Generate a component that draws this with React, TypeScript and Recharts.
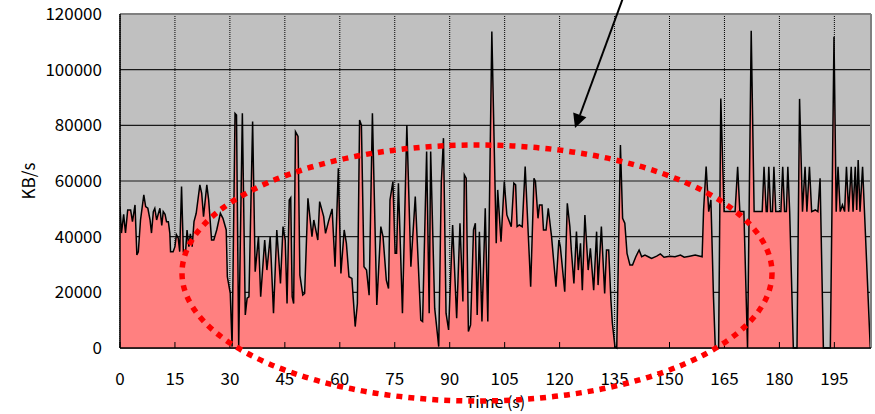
import { Area, AreaChart, CartesianGrid, Label, ReferenceLine, XAxis, YAxis } from "recharts";

// time stamps (s) of each sample
const TIME_S = [
  0, 0.4, 1.0, 1.5, 2.1, 2.9, 3.4, 4.1, 4.6, 5.0, 5.6, 6.5, 7.0, 7.6, 8.2, 8.6, 9.1, 9.5, 10.0, 10.5,
  10.9, 11.4, 11.8, 12.3, 12.7, 13.2, 13.6, 13.8, 14.5, 15.0, 15.4, 15.9, 16.3, 16.8, 17.3, 17.9, 18.3, 18.8, 19.2, 19.7,
  20.2, 20.8, 21.8, 22.3, 22.8, 23.7, 24.2, 25.0, 25.6, 26.4, 27.4, 28.1, 29.0, 29.3, 30.1, 30.6, 31.4, 31.8, 32.4, 33.4,
  34.2, 34.7, 35.2, 36.2, 36.9, 37.8, 38.4, 39.5, 40.1, 41.0, 41.9, 42.8, 43.8, 44.5, 45.1, 45.6, 46.2, 46.6, 47.0, 47.4,
  47.9, 48.6, 49.1, 49.9, 50.4, 51.3, 52.4, 52.9, 54.0, 54.5, 55.6, 56.1, 56.9, 57.9, 58.7, 59.6, 60.3, 61.2, 61.8, 62.5,
  63.3, 64.2, 64.8, 65.4, 65.9, 66.6, 67.3, 68.0, 68.9, 70.1, 71.2, 71.8, 72.7, 73.3, 73.7, 74.5, 75.1, 75.5, 76.0, 77.1,
  78.3, 79.4, 80.6, 82.1, 82.6, 83.7, 84.4, 84.8, 85.9, 87.0, 87.7, 88.3, 89.0, 89.7, 90.8, 91.9, 92.8, 93.6, 94.0, 94.5,
  95.1, 95.7, 96.5, 97.0, 97.5, 98.1, 98.8, 99.7, 100.4, 101.5, 102.7, 103.1, 104.0, 104.9, 105.6, 106.8, 107.5, 108.0, 108.4, 109.0,
  109.8, 110.6, 112.1, 113.0, 113.4, 114.1, 114.5, 115.2, 115.6, 116.3, 116.9, 117.8, 119.0, 119.8, 120.2, 121.4, 122.1, 122.8, 123.2, 123.9,
  124.6, 125.1, 125.7, 126.2, 126.9, 127.8, 128.4, 129.3, 130.1, 130.5, 131.4, 132.3, 132.8, 133.4, 134.0, 134.4, 135.1, 135.6, 136.6, 137.2,
  137.8, 138.4, 139.2, 139.9, 140.8, 141.7, 142.4, 143.3, 144.2, 145.1, 146.5, 147.5, 148.5, 150.0, 151.5, 153.0, 154.0, 155.5, 157.0, 158.9,
  159.3, 160.0, 160.7, 161.3, 162.0, 162.5, 163.4, 164.0, 164.9, 166.5, 167.9, 168.6, 169.2, 170.3, 171.3, 172.3, 173.1, 175.3, 175.8, 176.4,
  176.7, 177.1, 177.6, 178.1, 178.5, 179.0, 180.4, 180.9, 181.4, 181.9, 182.3, 182.8, 183.8, 184.8, 185.5, 186.3, 187.0, 187.5, 188.2, 188.8,
  189.8, 190.5, 191.1, 192.0, 193.9, 194.9, 195.5, 196.0, 196.6, 197.2, 197.8, 198.3, 198.9, 199.6, 200.1, 200.7, 201.1, 201.5, 202.0, 202.7,
  203.2, 204.8,
];

// throughput (KB/s) at each time stamp above
const RATE_KBPS = [
  50800, 41300, 48000, 41300, 49600, 49600, 45400, 51400, 33400, 34600, 46000, 55000, 50800, 50200, 46000, 41300, 49000, 50200, 46000, 48400,
  50200, 44000, 49000, 48000, 45400, 45400, 41300, 34600, 34600, 36400, 40700, 39500, 34600, 58000, 34600, 34600, 42400, 36400, 41000, 36400,
  45400, 48400, 58600, 55600, 47200, 58600, 53200, 38800, 38800, 42400, 48400, 46600, 42400, 25600, 19600, 500, 84300, 83700, 600, 84300,
  11900, 17900, 18400, 81400, 27400, 40000, 18400, 38800, 28000, 40000, 12500, 42400, 23200, 43600, 38800, 16000, 53200, 54000, 18400, 16000,
  77700, 76000, 26200, 19000, 19600, 53800, 40000, 46000, 38800, 52600, 47200, 41200, 45400, 50000, 29200, 64600, 26800, 42400, 37600, 25600,
  25000, 7700, 16000, 81900, 80100, 29200, 28000, 19000, 84300, 15500, 43600, 40000, 24400, 21400, 53200, 59800, 34000, 34000, 59200, 12500,
  80100, 29200, 54400, 10000, 9500, 70600, 12500, 70600, 14300, 500, 59200, 75400, 12500, 6500, 44200, 10700, 44800, 16700, 62200, 61000,
  5900, 8300, 42400, 44800, 11900, 41800, 9500, 50200, 9500, 113700, 37600, 56800, 38200, 59800, 47800, 43600, 59200, 58600, 43600, 44200,
  43600, 65200, 22000, 61000, 59800, 46600, 51400, 51400, 42400, 42400, 50200, 40000, 22000, 38800, 36400, 20200, 52000, 43600, 35200, 23200,
  41800, 28000, 37600, 20800, 47800, 28000, 35800, 20800, 41800, 22600, 43600, 19600, 35200, 35200, 17300, 8900, 500, 0, 72900, 46600,
  44800, 34000, 29800, 29800, 32800, 35200, 32800, 33400, 32800, 32200, 33000, 33800, 32600, 33000, 32800, 33400, 32600, 33000, 33400, 32800,
  49600, 65200, 49000, 53200, 18400, 0, 0, 89600, 49000, 49000, 49000, 65100, 49000, 49000, 0, 114000, 49000, 49000, 65100, 49000,
  49000, 65100, 49000, 49000, 65100, 49000, 49000, 65100, 49000, 49000, 65100, 49000, 0, 0, 89500, 49000, 65100, 49000, 65100, 49000,
  49600, 49000, 61000, 0, 0, 111800, 49000, 65100, 49000, 51400, 49000, 65100, 49000, 65100, 49000, 65100, 49600, 67500, 49000, 65100,
  49600, 0,
];

const X_TICKS = [0, 15, 30, 45, 60, 75, 90, 105, 120, 135, 150, 165, 180, 195];
const Y_TICKS = [0, 20000, 40000, 60000, 80000, 100000, 120000];

const data = TIME_S.map((t, i) => ({ t, kbps: RATE_KBPS[i] }));

const FONT = '"Noto Sans CJK JP", "Noto Sans", sans-serif';

function YTitle(props: any) {
  const vb = props.viewBox || { x: 20, y: 14, height: 334 };
  const x = vb.x + 7;
  const y = vb.y + vb.height / 2;
  return (
    <text
      x={x}
      y={y}
      transform={`rotate(-90 ${x} ${y})`}
      textAnchor="middle"
      dominantBaseline="central"
      fontSize={17}
      fontFamily={FONT}
      fill="#000"
    >
      KB/s
    </text>
  );
}

export default function App() {
  return (
    <div style={{ position: "absolute", left: 0, top: 0, width: 875, height: 414, background: "#fff" }}>
      <AreaChart
        width={875}
        height={414}
        data={data}
        margin={{ top: 14, right: 4, bottom: 0, left: 20 }}
        style={{ fontFamily: FONT }}
      >
        <CartesianGrid fill="#c0c0c0" vertical={false} stroke="#1a1a1a" strokeWidth={1.2} />
        <CartesianGrid horizontal={false} stroke="#000" strokeDasharray="1 1" />
        <XAxis
          type="number"
          dataKey="t"
          domain={[0, 205]}
          ticks={X_TICKS}
          interval={0}
          height={66}
          tickSize={-6}
          tickMargin={31}
          axisLine={{ stroke: "#000", strokeWidth: 1.5 }}
          tickLine={{ stroke: "#000" }}
          tick={{ fill: "#000", fontSize: 17, fontFamily: FONT }}
          allowDataOverflow
        >
          <Label value="Time (s)" position="insideBottom" offset={6} fill="#000" fontSize={16} fontFamily={FONT} />
        </XAxis>
        <YAxis
          type="number"
          domain={[0, 120000]}
          ticks={Y_TICKS}
          interval={0}
          width={100}
          tickSize={0}
          tickMargin={18}
          tickLine={false}
          axisLine={{ stroke: "#000", strokeWidth: 1.5 }}
          tick={{ fill: "#000", fontSize: 17, fontFamily: FONT }}
        >
          <Label content={<YTitle />} />
        </YAxis>
        <Area
          type="linear"
          dataKey="kbps"
          stroke="#000"
          strokeWidth={1.5}
          fill="#ff8080"
          fillOpacity={1}
          dot={false}
          activeDot={false}
          isAnimationActive={false}
        />
        <ReferenceLine y={120000} stroke="#808080" strokeWidth={2} />
        <ReferenceLine x={205} stroke="#808080" strokeWidth={2} />
      </AreaChart>
      <svg
        width={875}
        height={414}
        style={{ position: "absolute", left: 0, top: 0, pointerEvents: "none" }}
      >
        <ellipse
          cx={477}
          cy={273}
          rx={295}
          ry={128}
          fill="none"
          stroke="#ff0000"
          strokeWidth={5.5}
          strokeDasharray="6 6"
        />
        <line x1={623} y1={-2} x2={580} y2={115} stroke="#000" strokeWidth={2} />
        <polygon points="575,128 586.4,117.2 573.2,112.5" fill="#000" />
      </svg>
    </div>
  );
}
